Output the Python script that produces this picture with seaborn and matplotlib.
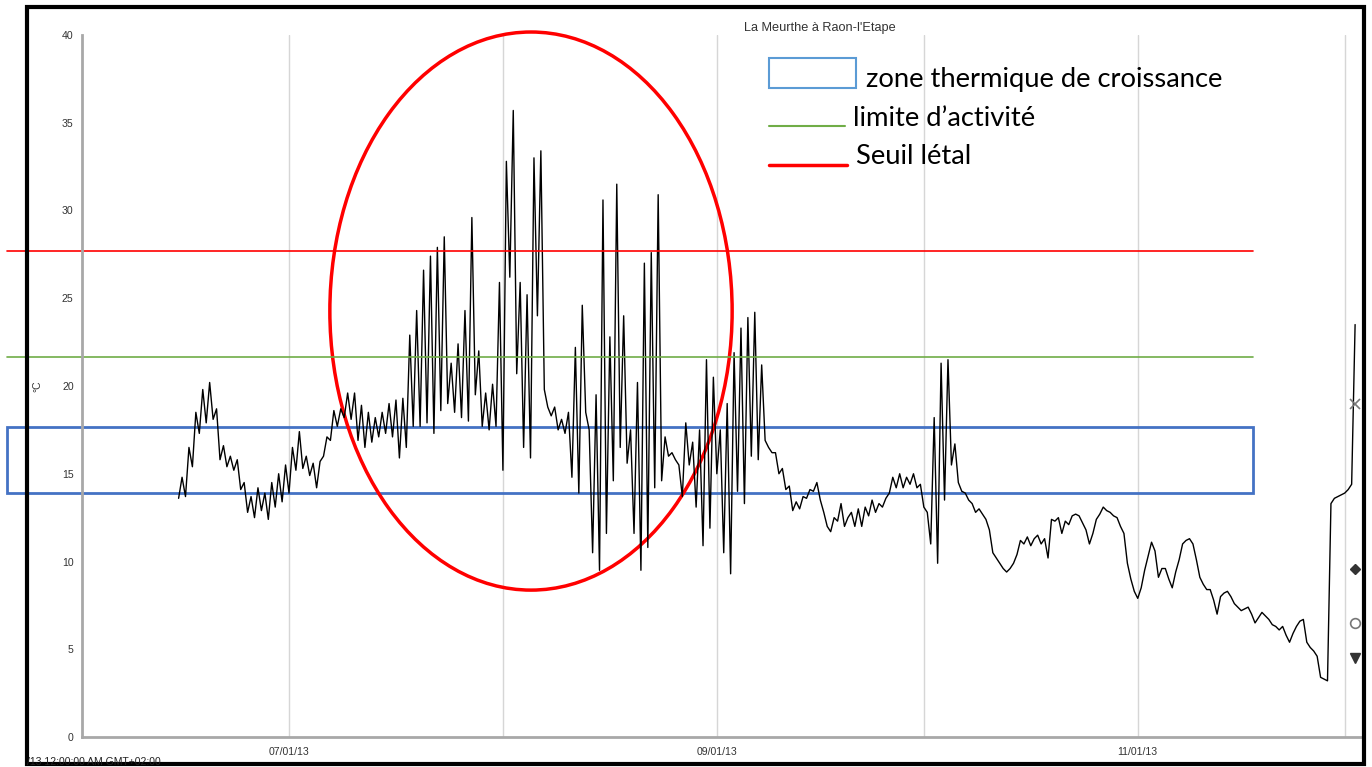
import pandas as pd
import matplotlib
matplotlib.use('Agg')
import matplotlib.pyplot as plt
import matplotlib.dates as mdates
from matplotlib.patches import Rectangle, Ellipse
from matplotlib.lines import Line2D
import seaborn as sns

# ---- data (12 h steps, starting 15 June 2013) ----
title = "La Meurthe à Raon-l'Etape"
start = '2013-06-15'

temp_jun = [13.6, 14.8, 13.7, 16.5, 15.4, 18.5, 17.3, 19.8, 17.9, 20.2, 18.1, 18.7,
            15.8, 16.6, 15.4, 16.0, 15.2, 15.8, 14.1, 14.5, 12.8, 13.7, 12.5, 14.2,
            12.9, 13.9, 12.4, 14.5, 13.1, 15.0, 13.4, 15.5]
temp_jul = [13.9, 16.5, 15.2, 17.4, 15.3, 16.0, 14.9, 15.6, 14.2, 15.7, 16.0, 17.1,
            16.9, 18.6, 17.7, 18.7, 18.2, 19.6, 18.1, 19.6, 16.9, 18.9, 16.5, 18.5,
            16.8, 18.2, 17.1, 18.5, 17.3, 19.0, 17.1, 19.2, 15.9, 19.3, 16.5, 22.9,
            17.7, 24.3, 17.7, 26.6, 17.9, 27.4, 17.3, 27.9, 18.6, 28.5, 19.0, 21.3,
            18.5, 22.4, 18.2, 24.3, 18.0, 29.6, 19.5, 22.0, 17.7, 19.6, 17.5, 20.1,
            17.7, 25.9]
temp_aug = [15.2, 32.8, 26.2, 35.7, 20.7, 25.9, 16.5, 25.2, 15.9, 33.0, 24.0, 33.4,
            19.8, 18.8, 18.3, 18.8, 17.5, 18.1, 17.3, 18.5, 14.8, 22.2, 13.9, 24.6,
            18.5, 17.5, 10.5, 19.5, 9.5, 30.6, 11.6, 22.8, 14.6, 31.5, 16.5, 24.0,
            15.6, 17.5, 11.6, 20.2, 9.5, 27.0, 10.8, 27.6, 14.2, 30.9, 14.6, 17.1,
            16.0, 16.2, 15.8, 15.5, 13.7, 17.9, 15.5, 16.8, 13.1, 17.5, 10.9, 21.5,
            11.9, 20.5]
temp_sep = [15.0, 17.5, 10.5, 19.0, 9.3, 21.9, 14.0, 23.3, 13.3, 23.9, 16.0, 24.2,
            15.8, 21.2, 16.9, 16.5, 16.2, 16.2, 15.0, 15.3, 14.1, 14.3, 12.9, 13.4,
            13.0, 13.7, 13.6, 14.1, 14.0, 14.5, 13.5, 12.8, 12.0, 11.7, 12.5, 12.3,
            13.3, 12.0, 12.5, 12.8, 12.0, 13.0, 12.0, 13.1, 12.6, 13.5, 12.8, 13.3,
            13.1, 13.6, 13.9, 14.8, 14.2, 15.0, 14.2, 14.8, 14.4, 15.0, 14.2, 14.4]
temp_oct = [13.1, 12.8, 11.0, 18.2, 9.9, 21.3, 13.5, 21.5, 15.5, 16.7, 14.5, 14.0,
            13.9, 13.5, 13.3, 12.8, 13.0, 12.7, 12.4, 11.8, 10.5, 10.2, 9.9, 9.6,
            9.4, 9.6, 9.9, 10.4, 11.2, 11.0, 11.4, 10.9, 11.3, 11.5, 11.0, 11.3,
            10.2, 12.4, 12.3, 12.5, 11.6, 12.3, 12.1, 12.6, 12.7, 12.6, 12.2, 11.8,
            11.0, 11.6, 12.4, 12.7, 13.1, 12.9, 12.8, 12.6, 12.5, 12.0, 11.6, 9.9,
            9.0, 8.3]
temp_nov = [7.9, 8.5, 9.5, 10.3, 11.1, 10.6, 9.1, 9.6, 9.6, 9.0, 8.5, 9.4,
            10.1, 11.0, 11.2, 11.3, 11.0, 10.1, 9.1, 8.7, 8.4, 8.4, 7.8, 7.0,
            8.0, 8.2, 8.3, 8.0, 7.6, 7.4, 7.2, 7.3, 7.4, 7.0, 6.5, 6.8,
            7.1, 6.9, 6.7, 6.4, 6.3, 6.1, 6.3, 5.8, 5.4, 5.9, 6.3, 6.6,
            6.7, 5.4, 5.1, 4.9, 4.6, 3.4, 3.3, 3.2, 13.3, 13.6, 13.7, 13.8]
temp_dec = [13.9, 14.1, 14.4, 23.5]

# threshold values (°C)
seuil_letal = 27.7
limite_activite = 21.65
zone_bas, zone_haut = 13.9, 17.65

# statistic markers shown at the right end
stat_vals = [19.0, 9.6, 6.5, 4.5]

temp = temp_jun + temp_jul + temp_aug + temp_sep + temp_oct + temp_nov + temp_dec
df = pd.DataFrame({'time': pd.date_range(start, periods=len(temp), freq='12h'),
                   'temp': temp})

W, H = 1372, 767
sns.set_style('white')
plt.rcParams['font.family'] = ['Liberation Sans', 'DejaVu Sans']

fig = plt.figure(figsize=(W / 100, H / 100), dpi=100)
ax = fig.add_axes([82 / W, 30 / H, 1280 / W, 702 / H])

sns.lineplot(data=df, x='time', y='temp', ax=ax, color='black', lw=1.0)

t0 = pd.Timestamp('2013-06-01')
ax.set_xlim(t0, t0 + pd.Timedelta(days=185.5))
ax.set_ylim(0, 40)

ax.xaxis.set_major_locator(mdates.MonthLocator(bymonth=[7, 9, 11]))
ax.xaxis.set_minor_locator(mdates.MonthLocator(bymonth=[8, 10, 12]))
ax.xaxis.set_major_formatter(mdates.DateFormatter('%m/%d/%y'))
ax.set_yticks(range(0, 41, 5))
ax.set_yticks(range(0, 41, 1), minor=True)
ax.grid(True, which='both', axis='x', color='#d6d6d6', lw=1)
ax.grid(False, axis='y')

ax.tick_params(axis='both', which='major', labelsize=7.6, labelcolor='#333333',
               color='#555555', length=4, width=1, pad=2)
ax.tick_params(axis='both', which='minor', color='#555555', length=2.5, width=1)
ax.tick_params(axis='x', which='major', length=5)
for s in ['top', 'right']:
    ax.spines[s].set_visible(False)
for s in ['left', 'bottom']:
    ax.spines[s].set_color('#a8a8a8')
    ax.spines[s].set_linewidth(2)

ax.set_xlabel('')
ax.set_ylabel('°C', fontsize=7.5, color='#333333')
ax.yaxis.set_label_coords(-40 / 1280, 0.5)

# markers at the end of the series
t_end = df['time'].iloc[-1]
ax.plot([t_end], [stat_vals[0]], marker='x', ms=7, mew=1.2, color='#777777', clip_on=False)
ax.plot([t_end], [stat_vals[1]], marker='D', ms=5, color='#333333', clip_on=False)
ax.plot([t_end], [stat_vals[2]], marker='o', ms=7, mfc='white', mec='#777777', mew=1.2, clip_on=False)
ax.plot([t_end], [stat_vals[3]], marker='v', ms=7, color='#333333', clip_on=False)

# thresholds drawn over the screenshot
x0, x1 = -75 / 1280, 1171 / 1280
ax.axhline(seuil_letal, xmin=x0, xmax=x1, color='red', lw=1.2, clip_on=False)
ax.axhline(limite_activite, xmin=x0, xmax=x1, color='#70AD47', lw=1.2, clip_on=False)
ax.add_patch(Rectangle((x0, zone_bas), x1 - x0, zone_haut - zone_bas,
                       transform=ax.get_yaxis_transform(), fill=False,
                       ec='#4472C4', lw=2, clip_on=False))
ax.add_patch(Ellipse((mdates.date2num(t0) + 65.07, 24.27), 58.3, 31.8,
                     fill=False, ec='red', lw=2.5, clip_on=False))

# title and footer
fig.text(820 / W, 1 - 28 / H, title, fontsize=9.2, ha='center', va='center', color='#333333')
fig.text(27 / W, 1 - 762 / H, '/13 12:00:00 AM GMT+02:00', fontsize=7.5,
         va='center', color='#222222')

# hand made legend
lf = dict(fontsize=19.7, family=['Lato', 'DejaVu Sans'], va='center', color='black')
fig.add_artist(Rectangle((769 / W, 1 - 88 / H), 87 / W, 30 / H, transform=fig.transFigure,
                         fill=False, ec='#5B9BD5', lw=1.5))
fig.text(866 / W, 1 - 79 / H, 'zone thermique de croissance', **lf)
fig.add_artist(Line2D([769 / W, 845 / W], [1 - 126 / H] * 2, color='#70AD47', lw=1.5))
fig.text(853 / W, 1 - 119 / H, 'limite d’activité', **lf)
fig.add_artist(Line2D([769 / W, 847 / W], [1 - 165 / H] * 2, color='red', lw=2.5))
fig.text(856 / W, 1 - 157 / H, 'Seuil létal', **lf)

# outer frame of the screenshot
fig.add_artist(Rectangle((27 / W, 1 - 764 / H), 1337 / W, 757 / H, transform=fig.transFigure,
                         fill=False, ec='black', lw=3))

fig.savefig('out.png', dpi=100)
